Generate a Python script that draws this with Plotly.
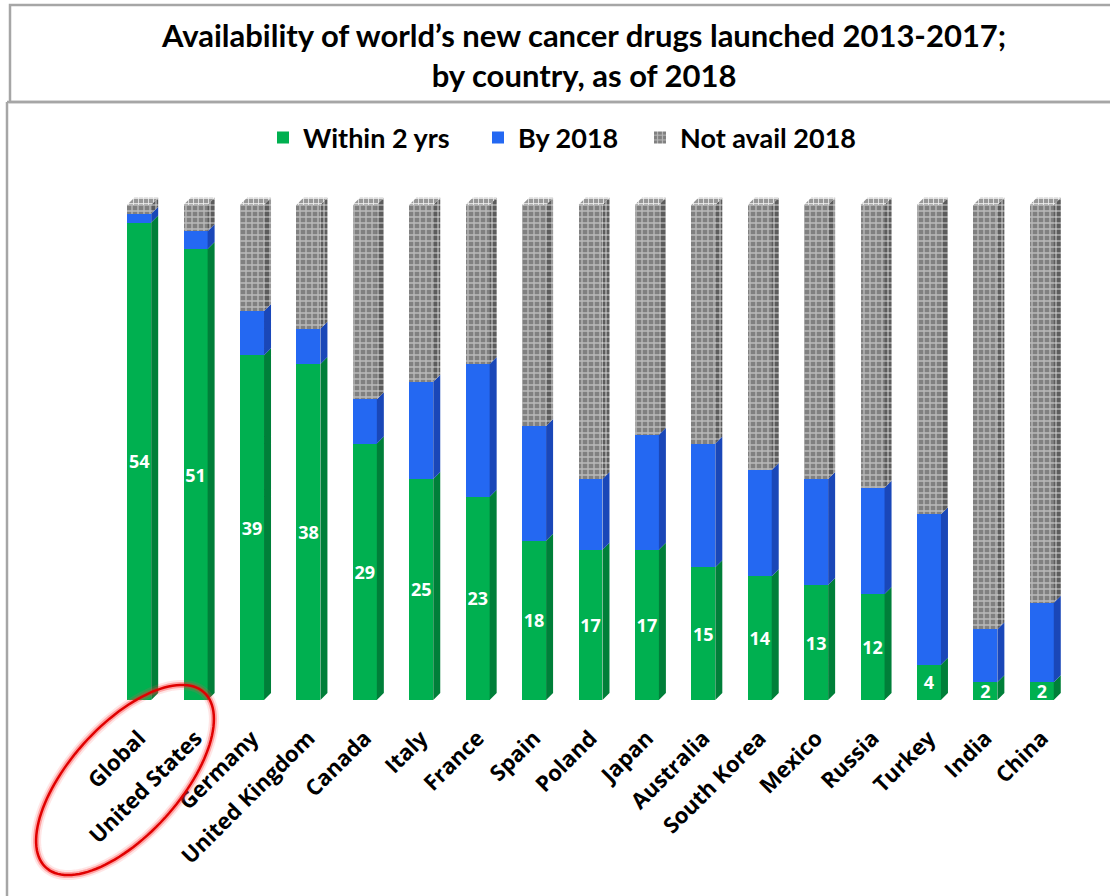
import numpy as np
import plotly.graph_objects as go

# ---- data -------------------------------------------------------------
countries = ["Global", "United States", "Germany", "United Kingdom", "Canada",
             "Italy", "France", "Spain", "Poland", "Japan", "Australia",
             "South Korea", "Mexico", "Russia", "Turkey", "India", "China"]
within_2yrs = [54, 51, 39, 38, 29, 25, 23, 18, 17, 17, 15, 14, 13, 12, 4, 2, 2]
by_2018 = [1, 2, 5, 4, 5, 11, 15, 13, 8, 13, 14, 12, 12, 12, 17, 6, 9]
not_avail_2018 = [1, 3, 12, 14, 22, 20, 18, 25, 31, 26, 27, 30, 31, 32, 35, 48, 45]

series_names = ["Within 2 yrs", "By 2018", "Not avail 2018"]

# ---- geometry ---------------------------------------------------------
W, H = 1110, 896
ML, MR, MT, MB = 111, 40, 196, 196
PW, PH = W - ML - MR, H - MT - MB
Y_MAX = 57
BAR_W = 0.425                      # front face width (category units)
DX = 7 / (PW / len(countries))     # depth offset, x (category units)
DY = 7 / (PH / Y_MAX)              # depth offset, y (value units)

FRONT = ["#00B050", "#2468F2", "#808080"]
SIDE = ["#007F39", "#1A47B8", "#5c5c5c"]
TOP_GRAY = "#989898"
LEGEND_TEXT_X = [303, 518, 680]    # left edge of each legend label, px


def px_x(p):
    return (p - ML) / PW


def px_y(p):
    return (H - MB - p) / PH


xs = np.arange(len(countries))
layers = [np.array(within_2yrs, float), np.array(by_2018, float),
          np.array(not_avail_2018, float)]
bases = np.vstack([np.zeros(len(xs)), np.cumsum(layers, axis=0)[:-1]])
tops = bases + np.vstack(layers)

fig = go.Figure()

# front faces
pattern_gray = dict(shape="+", fgcolor="#f4f4f4", size=6, solidity=0.4,
                    fillmode="overlay")
legend_ids = ["legend", "legend2", "legend3"]
for k, name in enumerate(series_names):
    marker = dict(color=FRONT[k], line=dict(width=0))
    if k == 2:
        marker["pattern"] = pattern_gray
    kw = {}
    if k == 0:
        kw = dict(text=within_2yrs, textposition="inside",
                  insidetextanchor="middle", textangle=0,
                  textfont=dict(color="white", size=18, family="Open Sans",
                                weight="bold"))
    fig.add_trace(go.Bar(x=xs, y=layers[k], width=BAR_W, name=name,
                         marker=marker, legend=legend_ids[k], **kw))

# right-hand side faces (depth)
for k in range(3):
    px_, py_ = [], []
    for i in xs:
        xr = i + BAR_W / 2
        y0 = bases[k][i]
        y1 = tops[k][i]
        if y1 <= y0:
            continue
        y0s = y0 + DY
        px_ += [xr, xr + DX, xr + DX, xr, xr, None]
        py_ += [y0, y0s, y1 + DY, y1, y0, None]
    sc = dict(x=px_, y=py_, mode="lines", fill="toself", line=dict(width=0),
              fillcolor=SIDE[k], showlegend=False, hoverinfo="skip")
    if k == 2:
        sc["fillpattern"] = dict(shape="+", fgcolor="#d8d8d8", bgcolor=SIDE[k],
                                 size=6, solidity=0.3, fillmode="replace")
    fig.add_trace(go.Scatter(**sc))

# top faces
tx, ty = [], []
for i in xs:
    xl, xr = i - BAR_W / 2, i + BAR_W / 2
    yt = tops[2][i]
    tx += [xl, xl + DX, xr + DX, xr, xl, None]
    ty += [yt, yt + DY, yt + DY, yt, yt, None]
fig.add_trace(go.Scatter(x=tx, y=ty, mode="lines", fill="toself",
                         line=dict(width=0), fillcolor=TOP_GRAY,
                         fillpattern=dict(shape="+", fgcolor="#eeeeee",
                                          bgcolor=TOP_GRAY, size=5,
                                          solidity=0.3, fillmode="replace"),
                         showlegend=False, hoverinfo="skip"))

# ---- decorations ------------------------------------------------------
shapes = []
BORDER = dict(color="#a6a6a6", width=2.5)
# title box
shapes.append(dict(type="rect", xref="paper", yref="paper",
                   x0=px_x(10), x1=px_x(1114), y0=px_y(102), y1=px_y(5),
                   line=BORDER, layer="below"))
# chart box
shapes.append(dict(type="line", xref="paper", yref="paper",
                   x0=px_x(7), x1=px_x(7), y0=px_y(102), y1=px_y(900),
                   line=BORDER))
shapes.append(dict(type="line", xref="paper", yref="paper",
                   x0=px_x(7), x1=px_x(1114), y0=px_y(102), y1=px_y(102),
                   line=BORDER))

# red highlight ellipse around the first two labels
cx, cy, ea, eb, th = 125, 780, 118, 55, np.deg2rad(-48)
t = np.linspace(0, 2 * np.pi, 120)
ex = cx + ea * np.cos(t) * np.cos(th) - eb * np.sin(t) * np.sin(th)
ey = cy + ea * np.cos(t) * np.sin(th) + eb * np.sin(t) * np.cos(th)
path = "M " + " L ".join(f"{px_x(a):.5f},{px_y(b):.5f}" for a, b in zip(ex, ey)) + " Z"
for w, c in [(10, "rgba(255,80,80,0.15)"), (6, "rgba(255,40,40,0.35)"),
             (2.5, "#e00000")]:
    shapes.append(dict(type="path", xref="paper", yref="paper", path=path,
                       line=dict(color=c, width=w)))

fig.add_annotation(
    xref="paper", yref="paper", x=px_x(583), y=px_y(55),
    text="Availability of world’s new cancer drugs launched 2013-2017;<br>by country, as of 2018",
    showarrow=False, xanchor="center", yanchor="middle",
    font=dict(family="Lato", size=31, color="black", weight="bold"))

legend_font = dict(family="Lato", size=27, color="black", weight="bold")
legends = {}
for k, lid in enumerate(legend_ids):
    legends[lid] = dict(orientation="h", x=px_x(LEGEND_TEXT_X[k] - 40),
                        xanchor="left", y=px_y(138), yanchor="middle",
                        font=legend_font, bgcolor="rgba(0,0,0,0)")

fig.update_layout(
    width=W, height=H,
    margin=dict(l=ML, r=MR, t=MT, b=MB),
    barmode="stack",
    plot_bgcolor="white", paper_bgcolor="white",
    showlegend=True,
    uniformtext=dict(minsize=18, mode="show"),
    xaxis=dict(range=[-0.5, len(countries) - 0.5], tickvals=xs,
               ticktext=countries, tickangle=-45, showgrid=False,
               zeroline=False, showline=False, ticks="",
               ticklabelstandoff=20,
               tickfont=dict(family="Open Sans", size=22, color="black",
                             weight="bold")),
    yaxis=dict(range=[0, Y_MAX], visible=False),
    shapes=shapes,
    **legends,
)

fig.write_html("out.html")
